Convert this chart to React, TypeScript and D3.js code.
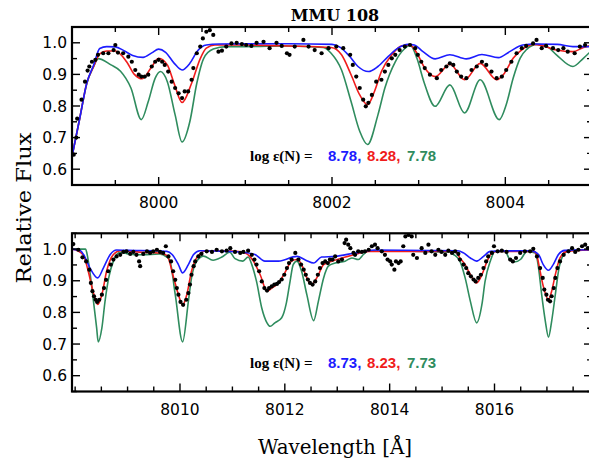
import React from 'react';
import * as d3 from 'd3';

type Pt = [number, number];

// ---- upper panel, 7999-8005 Å ----
const topObs: Pt[] = [
  [7999.02, 0.646], [7999.05, 0.70], [7999.06, 0.76], [7999.11, 0.82], [7999.15, 0.877], [7999.18, 0.912],
  [7999.2, 0.925], [7999.23, 0.94], [7999.27, 0.946], [7999.3, 0.962], [7999.36, 0.967], [7999.42, 0.967],
  [7999.48, 0.977], [7999.5, 0.993], [7999.53, 0.969], [7999.59, 0.967], [7999.65, 0.956], [7999.69, 0.94],
  [7999.73, 0.914], [7999.77, 0.899], [7999.8, 0.893], [7999.84, 0.893], [7999.88, 0.899], [7999.92, 0.925],
  [7999.96, 0.94], [8000.0, 0.946], [8000.04, 0.94], [8000.07, 0.93], [8000.11, 0.909], [8000.15, 0.877],
  [8000.19, 0.857], [8000.23, 0.84], [8000.27, 0.825], [8000.3, 0.846], [8000.34, 0.846], [8000.38, 0.883],
  [8000.4, 0.92], [8000.44, 0.967], [8000.48, 0.988], [8000.51, 1.014], [8000.55, 1.035], [8000.59, 1.04],
  [8000.63, 1.025], [8000.69, 0.972], [8000.73, 0.975], [8000.78, 0.988], [8000.84, 0.998], [8000.9, 1.0],
  [8000.96, 0.996], [8001.01, 0.993], [8001.07, 0.99], [8001.13, 1.0], [8001.21, 1.003], [8001.28, 0.983],
  [8001.36, 1.0], [8001.42, 0.99], [8001.48, 0.967], [8001.51, 0.962], [8001.57, 0.988], [8001.67, 1.009],
  [8001.73, 0.988], [8001.8, 0.977], [8001.88, 0.967], [8001.96, 0.983], [8002.05, 0.988], [8002.13, 0.983],
  [8002.21, 0.962], [8002.24, 0.93], [8002.28, 0.893], [8002.32, 0.857], [8002.36, 0.82], [8002.39, 0.799],
  [8002.42, 0.81], [8002.46, 0.835], [8002.51, 0.877], [8002.57, 0.883], [8002.61, 0.909], [8002.65, 0.93],
  [8002.69, 0.951], [8002.73, 0.962], [8002.78, 0.977], [8002.84, 0.988], [8002.9, 0.993], [8002.96, 0.983],
  [8002.99, 0.962], [8003.03, 0.94], [8003.07, 0.92], [8003.13, 0.899], [8003.21, 0.888], [8003.26, 0.914],
  [8003.32, 0.925], [8003.36, 0.935], [8003.4, 0.93], [8003.44, 0.909], [8003.49, 0.893], [8003.55, 0.888],
  [8003.61, 0.914], [8003.67, 0.925], [8003.73, 0.94], [8003.78, 0.93], [8003.84, 0.909], [8003.9, 0.888],
  [8003.96, 0.893], [8004.01, 0.914], [8004.07, 0.94], [8004.13, 0.967], [8004.19, 0.983], [8004.24, 0.99],
  [8004.32, 0.998], [8004.36, 1.009], [8004.42, 0.983], [8004.47, 0.99], [8004.55, 0.983], [8004.61, 0.977],
  [8004.67, 0.983], [8004.72, 0.972], [8004.8, 0.967], [8004.86, 0.988], [8004.92, 0.993],
];

const topBlue: Pt[] = [
  [7999.0, 0.64], [7999.09, 0.762], [7999.17, 0.872], [7999.25, 0.93], [7999.32, 0.982], [7999.4, 0.988],
  [7999.5, 0.987], [7999.6, 0.975], [7999.7, 0.96], [7999.82, 0.954], [7999.92, 0.968], [8000.0, 0.98],
  [8000.08, 0.97], [8000.18, 0.935], [8000.27, 0.914], [8000.36, 0.935], [8000.45, 0.975], [8000.55, 0.993],
  [8000.7, 0.996], [8001.0, 0.997], [8001.5, 0.997], [8002.0, 0.995], [8002.1, 0.985], [8002.2, 0.958],
  [8002.3, 0.925], [8002.42, 0.909], [8002.53, 0.925], [8002.65, 0.957], [8002.76, 0.983], [8002.88, 0.995],
  [8002.95, 0.993], [8003.05, 0.972], [8003.19, 0.949], [8003.36, 0.962], [8003.55, 0.949], [8003.73, 0.963],
  [8003.92, 0.953], [8004.05, 0.972], [8004.2, 0.993], [8004.35, 0.996], [8004.6, 0.995], [8004.78, 0.988],
  [8005.0, 0.988],
];

const topRed: Pt[] = [
  [7999.0, 0.64], [7999.09, 0.762], [7999.17, 0.872], [7999.25, 0.925], [7999.32, 0.965], [7999.4, 0.974],
  [7999.5, 0.974], [7999.63, 0.94], [7999.72, 0.9], [7999.81, 0.886], [7999.91, 0.92], [8000.0, 0.951],
  [8000.1, 0.93], [8000.18, 0.87], [8000.27, 0.811], [8000.38, 0.872], [8000.48, 0.95], [8000.55, 0.983],
  [8000.65, 0.993], [8001.0, 0.993], [8001.5, 0.99], [8001.99, 0.985], [8002.11, 0.962], [8002.22, 0.899],
  [8002.32, 0.835], [8002.41, 0.804], [8002.49, 0.846], [8002.57, 0.909], [8002.69, 0.962], [8002.8, 0.99],
  [8002.9, 0.993], [8002.98, 0.967], [8003.07, 0.92], [8003.19, 0.893], [8003.36, 0.932], [8003.53, 0.883],
  [8003.71, 0.935], [8003.9, 0.883], [8003.99, 0.904], [8004.09, 0.951], [8004.2, 0.98], [8004.32, 0.995],
  [8004.44, 0.99], [8004.59, 0.977], [8004.78, 0.972], [8004.9, 0.985], [8005.0, 0.993],
];

const topGreen: Pt[] = [
  [7999.0, 0.64], [7999.09, 0.762], [7999.17, 0.87], [7999.25, 0.925], [7999.3, 0.95], [7999.45, 0.93],
  [7999.56, 0.91], [7999.68, 0.857], [7999.8, 0.757], [7999.88, 0.814], [7999.96, 0.888], [8000.02, 0.909],
  [8000.1, 0.877], [8000.19, 0.772], [8000.27, 0.686], [8000.36, 0.751], [8000.44, 0.872], [8000.52, 0.951],
  [8000.63, 0.98], [8000.78, 0.988], [8001.0, 0.988], [8001.5, 0.99], [8001.9, 0.985], [8001.99, 0.967],
  [8002.11, 0.914], [8002.22, 0.814], [8002.32, 0.72], [8002.41, 0.678], [8002.53, 0.772], [8002.61, 0.857],
  [8002.73, 0.94], [8002.84, 0.982], [8002.9, 0.993], [8002.98, 0.951], [8003.06, 0.877], [8003.19, 0.799],
  [8003.36, 0.867], [8003.53, 0.778], [8003.71, 0.883], [8003.93, 0.757], [8004.01, 0.804], [8004.09, 0.888],
  [8004.17, 0.951], [8004.25, 0.98], [8004.36, 0.995], [8004.48, 0.988], [8004.59, 0.962], [8004.78, 0.925],
  [8004.9, 0.951], [8005.0, 0.977],
];

// ---- lower panel, 8008-8018 Å ----
const botObs: Pt[] = [
  [8007.965, 1.016], [8008.06, 0.998], [8008.14, 0.974], [8008.21, 0.961], [8008.27, 0.935], [8008.3, 0.893],
  [8008.33, 0.867], [8008.36, 0.851], [8008.39, 0.84], [8008.42, 0.833], [8008.46, 0.84], [8008.51, 0.856],
  [8008.55, 0.877], [8008.59, 0.903], [8008.63, 0.93], [8008.68, 0.951], [8008.73, 0.967], [8008.79, 0.977],
  [8008.86, 0.982], [8008.92, 0.991], [8008.98, 0.993], [8009.05, 0.985], [8009.11, 0.991], [8009.17, 0.982],
  [8009.22, 0.961], [8009.24, 0.946], [8009.3, 0.985], [8009.37, 0.993], [8009.43, 0.988], [8009.49, 0.993],
  [8009.56, 0.998], [8009.62, 0.991], [8009.68, 0.988], [8009.73, 1.009], [8009.78, 0.977], [8009.83, 0.961],
  [8009.87, 0.93], [8009.91, 0.903], [8009.94, 0.877], [8009.97, 0.856], [8010.01, 0.833], [8010.06, 0.824],
  [8010.12, 0.84], [8010.16, 0.861], [8010.19, 0.888], [8010.22, 0.919], [8010.26, 0.946], [8010.29, 0.961],
  [8010.35, 0.977], [8010.41, 0.985], [8010.51, 0.993], [8010.61, 0.991], [8010.7, 0.998], [8010.8, 0.993],
  [8010.89, 0.995], [8010.96, 1.003], [8011.05, 0.991], [8011.15, 0.988], [8011.21, 0.991], [8011.3, 0.995],
  [8011.37, 0.982], [8011.42, 0.967], [8011.46, 0.951], [8011.51, 0.93], [8011.56, 0.898], [8011.61, 0.877],
  [8011.66, 0.869], [8011.7, 0.877], [8011.75, 0.882], [8011.8, 0.888], [8011.85, 0.89], [8011.89, 0.896],
  [8011.94, 0.904], [8011.99, 0.919], [8012.04, 0.94], [8012.08, 0.956], [8012.13, 0.967], [8012.2, 0.988],
  [8012.26, 0.967], [8012.31, 0.951], [8012.36, 0.935], [8012.4, 0.919], [8012.44, 0.904], [8012.48, 0.893],
  [8012.53, 0.888], [8012.58, 0.898], [8012.63, 0.919], [8012.67, 0.94], [8012.72, 0.956], [8012.77, 0.961],
  [8012.82, 0.956], [8012.86, 0.967], [8012.91, 0.967], [8012.96, 0.977], [8013.02, 0.961], [8013.09, 0.967],
  [8013.14, 1.019], [8013.17, 1.03], [8013.21, 1.014], [8013.25, 1.003], [8013.31, 0.988], [8013.34, 0.982],
  [8013.4, 0.993], [8013.47, 0.991], [8013.53, 0.993], [8013.6, 0.998], [8013.66, 1.009], [8013.72, 1.014],
  [8013.77, 1.003], [8013.85, 0.993], [8013.91, 0.982], [8013.96, 0.967], [8014.01, 0.961], [8014.04, 0.951],
  [8014.09, 0.935], [8014.12, 0.961], [8014.17, 0.956], [8014.21, 0.961], [8014.26, 1.009], [8014.3, 1.04],
  [8014.36, 1.045], [8014.42, 1.04], [8014.45, 0.982], [8014.52, 0.972], [8014.61, 1.003], [8014.68, 0.988],
  [8014.74, 1.014], [8014.8, 0.993], [8014.87, 0.982], [8014.93, 0.998], [8014.99, 0.991], [8015.06, 0.982],
  [8015.12, 0.995], [8015.19, 0.988], [8015.25, 0.993], [8015.31, 0.985], [8015.34, 0.967], [8015.41, 0.951],
  [8015.46, 0.94], [8015.5, 0.924], [8015.55, 0.914], [8015.6, 0.904], [8015.64, 0.898], [8015.69, 0.909],
  [8015.74, 0.919], [8015.79, 0.94], [8015.84, 0.961], [8015.88, 0.977], [8015.95, 0.988], [8015.99, 1.009],
  [8016.06, 0.993], [8016.14, 0.995], [8016.23, 0.991], [8016.3, 0.967], [8016.35, 0.961], [8016.41, 0.972],
  [8016.49, 0.988], [8016.58, 0.993], [8016.68, 0.993], [8016.74, 1.001], [8016.81, 0.977], [8016.87, 0.94],
  [8016.92, 0.909], [8016.95, 0.872], [8016.99, 0.856], [8017.02, 0.84], [8017.06, 0.835], [8017.09, 0.851],
  [8017.13, 0.877], [8017.16, 0.909], [8017.2, 0.94], [8017.25, 0.961], [8017.32, 0.982], [8017.41, 0.993],
  [8017.48, 1.003], [8017.54, 0.991], [8017.6, 0.998], [8017.67, 1.009], [8017.73, 1.014], [8017.78, 1.003],
];

const botBlue: Pt[] = [
  [8007.94, 1.0], [8008.1, 0.995], [8008.16, 0.983], [8008.28, 0.941], [8008.43, 0.909], [8008.54, 0.941],
  [8008.67, 0.983], [8008.79, 0.997], [8009.0, 0.996], [8009.5, 0.995], [8009.75, 0.993], [8009.85, 0.983],
  [8009.97, 0.951], [8010.05, 0.925], [8010.16, 0.951], [8010.26, 0.983], [8010.38, 0.995], [8010.9, 0.993],
  [8011.2, 0.99], [8011.43, 0.983], [8011.62, 0.962], [8011.88, 0.962], [8012.23, 0.977], [8012.4, 0.965],
  [8012.55, 0.956], [8012.7, 0.975], [8012.96, 0.977], [8013.34, 0.988], [8013.72, 0.997], [8015.3, 0.995],
  [8015.41, 0.988], [8015.54, 0.972], [8015.66, 0.962], [8015.79, 0.977], [8015.92, 0.993], [8016.7, 0.995],
  [8016.84, 0.983], [8016.93, 0.951], [8017.03, 0.933], [8017.12, 0.951], [8017.22, 0.983], [8017.34, 0.996],
  [8017.86, 0.998],
];

const botRed: Pt[] = [
  [8007.94, 1.0], [8008.05, 0.995], [8008.16, 0.98], [8008.25, 0.93], [8008.35, 0.861], [8008.43, 0.825],
  [8008.51, 0.856], [8008.6, 0.93], [8008.73, 0.983], [8008.86, 0.995], [8009.3, 0.99], [8009.62, 0.987],
  [8009.75, 0.98], [8009.88, 0.909], [8009.97, 0.856], [8010.05, 0.823], [8010.13, 0.856], [8010.22, 0.93],
  [8010.35, 0.98], [8010.51, 0.995], [8011.0, 0.994], [8011.24, 0.988], [8011.4, 0.962], [8011.53, 0.919],
  [8011.66, 0.867], [8011.75, 0.877], [8011.88, 0.893], [8012.0, 0.925], [8012.13, 0.962], [8012.23, 0.967],
  [8012.32, 0.951], [8012.42, 0.909], [8012.51, 0.888], [8012.61, 0.909], [8012.74, 0.951], [8012.9, 0.962],
  [8013.09, 0.972], [8013.34, 0.983], [8013.6, 0.993], [8015.25, 0.993], [8015.34, 0.972], [8015.44, 0.951],
  [8015.54, 0.919], [8015.66, 0.893], [8015.76, 0.919], [8015.86, 0.962], [8015.95, 0.988], [8016.05, 0.993],
  [8016.75, 0.993], [8016.81, 0.978], [8016.87, 0.93], [8016.93, 0.883], [8017.03, 0.84], [8017.09, 0.867],
  [8017.16, 0.919], [8017.25, 0.972], [8017.38, 0.993], [8017.86, 0.998],
];

const botGreen: Pt[] = [
  [8007.94, 1.0], [8008.2, 1.0], [8008.22, 0.99], [8008.28, 0.93], [8008.35, 0.835], [8008.41, 0.751],
  [8008.44, 0.707], [8008.51, 0.751], [8008.57, 0.835], [8008.64, 0.909], [8008.73, 0.962], [8008.86, 0.99],
  [8009.0, 0.985], [8009.3, 0.982], [8009.6, 0.985], [8009.75, 0.975], [8009.81, 0.962], [8009.91, 0.856],
  [8010.05, 0.707], [8010.16, 0.835], [8010.22, 0.909], [8010.32, 0.962], [8010.45, 0.978], [8010.63, 0.965],
  [8010.8, 0.975], [8010.95, 0.99], [8011.05, 0.97], [8011.2, 0.962], [8011.3, 0.975], [8011.37, 0.951],
  [8011.46, 0.898], [8011.56, 0.814], [8011.66, 0.767], [8011.72, 0.756], [8011.81, 0.767], [8011.94, 0.783],
  [8012.03, 0.83], [8012.1, 0.898], [8012.16, 0.951], [8012.23, 0.962], [8012.32, 0.93], [8012.42, 0.856],
  [8012.55, 0.774], [8012.64, 0.835], [8012.74, 0.909], [8012.83, 0.946], [8012.96, 0.956], [8013.15, 0.962],
  [8013.28, 0.972], [8013.4, 0.967], [8013.5, 0.983], [8013.6, 0.995], [8015.15, 0.99], [8015.22, 0.983],
  [8015.34, 0.962], [8015.44, 0.909], [8015.54, 0.835], [8015.66, 0.767], [8015.76, 0.825], [8015.82, 0.898],
  [8015.92, 0.962], [8016.01, 0.993], [8016.2, 0.993], [8016.3, 0.965], [8016.4, 0.96], [8016.5, 0.968],
  [8016.62, 0.993], [8016.78, 0.988], [8016.84, 0.941], [8016.9, 0.856], [8016.97, 0.772], [8017.03, 0.722],
  [8017.09, 0.772], [8017.16, 0.856], [8017.22, 0.93], [8017.32, 0.983], [8017.45, 0.997], [8017.86, 0.998],
];

const topAbund = ['8.78,', '8.28,', '7.78'];
const botAbund = ['8.73,', '8.23,', '7.73'];
const topTicks = [8000, 8002, 8004];
const botTicks = [8010, 8012, 8014, 8016];
const yTicks = [0.6, 0.7, 0.8, 0.9, 1.0];

const BLUE = '#1c1cff';
const RED = '#f01c1c';
const GREEN = '#2f8c5e';
const LEFT = 72;
const RIGHT = 592;

type PanelProps = {
  id: string;
  top: number;
  bottom: number;
  domain: [number, number];
  ticks: number[];
  obs: Pt[];
  blue: Pt[];
  red: Pt[];
  green: Pt[];
  abund: string[];
  noteY: number;
};

function Panel({ id, top, bottom, domain, ticks, obs, blue, red, green, abund, noteY }: PanelProps) {
  const x = d3.scaleLinear().domain(domain).range([LEFT, RIGHT]);
  const y = d3.scaleLinear().domain([0.55, 1.05]).range([bottom, top]);
  const line = d3
    .line<Pt>()
    .x((d) => x(d[0]))
    .y((d) => y(d[1]))
    .curve(d3.curveMonotoneX);

  const minorX = d3.range(Math.ceil(domain[0] * 2) / 2, domain[1] + 1e-6, 0.5);
  const minorY = d3.range(0.55, 1.0501, 0.05);
  const isMajor = (v: number, arr: number[]) => arr.some((t) => Math.abs(t - v) < 1e-6);

  return (
    <g>
      <defs>
        <clipPath id={id}>
          <rect x={LEFT} y={top} width={RIGHT - LEFT} height={bottom - top} />
        </clipPath>
      </defs>
      <g clipPath={`url(#${id})`}>
        <path d={line(green) || ''} fill="none" stroke={GREEN} strokeWidth={1.6} />
        <path d={line(red) || ''} fill="none" stroke={RED} strokeWidth={1.6} />
        <path d={line(blue) || ''} fill="none" stroke={BLUE} strokeWidth={1.6} />
        {obs.map((d, i) => (
          <circle key={i} cx={x(d[0])} cy={y(d[1])} r={2.1} fill="#000" />
        ))}
      </g>
      {/* ticks on x, top and bottom, inward */}
      {minorX.map((v) => {
        const len = isMajor(v, ticks) ? 8 : 5;
        return (
          <g key={'x' + v} stroke="#000" strokeWidth={1.4}>
            <line x1={x(v)} x2={x(v)} y1={bottom} y2={bottom - len} />
            <line x1={x(v)} x2={x(v)} y1={top} y2={top + len} />
          </g>
        );
      })}
      {minorY.map((v) => {
        const len = isMajor(v, yTicks) ? 8 : 5;
        return (
          <g key={'y' + v} stroke="#000" strokeWidth={1.4}>
            <line x1={LEFT} x2={LEFT + len} y1={y(v)} y2={y(v)} />
            <line x1={RIGHT} x2={RIGHT - len} y1={y(v)} y2={y(v)} />
          </g>
        );
      })}
      <rect x={LEFT} y={top} width={RIGHT - LEFT} height={bottom - top} fill="none" stroke="#000" strokeWidth={2.2} />
      {ticks.map((t) => (
        <text key={t} x={x(t)} y={bottom + 23} textAnchor="middle" fontFamily="DejaVu Sans" fontSize={15.5}>
          {t}
        </text>
      ))}
      {yTicks.map((t) => (
        <text key={t} x={LEFT - 5} y={y(t) + 5.5} textAnchor="end" fontFamily="DejaVu Sans" fontSize={15.5}>
          {t.toFixed(1)}
        </text>
      ))}
      <text x={250} y={noteY} fontFamily="Liberation Serif" fontWeight="bold" fontSize={15}>
        log ε(N) =
      </text>
      {abund.map((a, i) => (
        <text
          key={a}
          x={[328, 367, 407][i]}
          y={noteY}
          fontFamily="Liberation Sans"
          fontWeight="bold"
          fontSize={15}
          fill={[BLUE, RED, GREEN][i]}
        >
          {a}
        </text>
      ))}
    </g>
  );
}

export default function App() {
  return (
    <svg
      width={589}
      height={465}
      style={{ position: 'absolute', left: 0, top: 0, background: '#fff' }}
    >
      <rect width={589} height={465} fill="#fff" />
      <text x={335} y={21} textAnchor="middle" fontFamily="DejaVu Serif" fontWeight="bold" fontSize={16}>
        MMU 108
      </text>
      <Panel
        id="clipTop"
        top={27}
        bottom={185}
        domain={[7999, 8005]}
        ticks={topTicks}
        obs={topObs}
        blue={topBlue}
        red={topRed}
        green={topGreen}
        abund={topAbund}
        noteY={161}
      />
      <Panel
        id="clipBot"
        top={233.3}
        bottom={391.5}
        domain={[8007.94, 8017.86]}
        ticks={botTicks}
        obs={botObs}
        blue={botBlue}
        red={botRed}
        green={botGreen}
        abund={botAbund}
        noteY={368}
      />
      <text
        transform="translate(31,208) rotate(-90)"
        textAnchor="middle"
        fontFamily="DejaVu Serif"
        fontSize={20}
        textLength={151}
        lengthAdjust="spacingAndGlyphs"
      >
        Relative Flux
      </text>
      <text
        x={335}
        y={454}
        textAnchor="middle"
        fontFamily="DejaVu Serif"
        fontSize={20}
        textLength={154}
        lengthAdjust="spacingAndGlyphs"
      >
        Wavelength [Å]
      </text>
    </svg>
  );
}
